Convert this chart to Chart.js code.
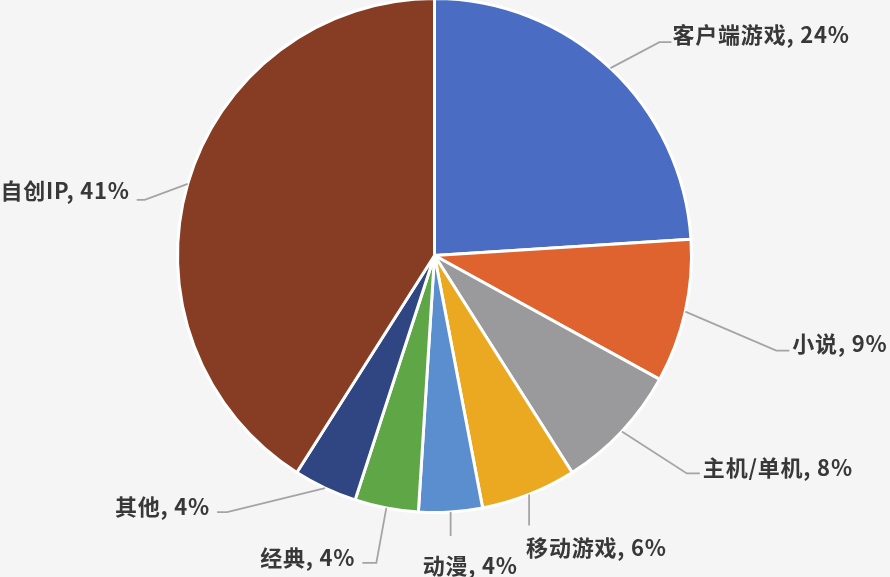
<!DOCTYPE html>
<html>
<head>
<meta charset="utf-8">
<script src="https://cdn.jsdelivr.net/npm/chart.js@4.4.1/dist/chart.umd.min.js"></script>
<style>
  html, body { margin: 0; padding: 0; background: #f5f5f5; overflow: hidden; }
  #wrap { position: absolute; left: 0; top: -20px; width: 890px; height: 597px; }
</style>
</head>
<body>
<div id="wrap"><canvas id="pie"></canvas></div>
<script>
// IP sources, share in percent, clockwise from 12 o'clock
const labels = ["客户端游戏", "小说", "主机/单机", "移动游戏", "动漫", "经典", "其他", "自创IP"];
const shares = [24, 9, 8, 6, 4, 4, 4, 41];
const colors = ["#4a6cc2", "#df632f", "#9a9a9c", "#eba922", "#5a8ecf", "#5ea646", "#2f4682", "#873d24"];

// where each label sits relative to the slice's outer midpoint
const leaderLayout = [
  { dx: 49, dy: -26, run: 12, tx: 1, ty: -8, align: "left" },
  { dx: 91, dy: 39, run: 13, tx: 3, ty: -7, align: "left" },
  { dx: 65, dy: 42, run: 13, tx: 3, ty: -6, align: "left" },
  { dx: 0, dy: 31, run: 0, tx: -3, ty: 22, align: "left" },
  { dx: 0, dy: 24, run: 0, tx: -28, ty: 30, align: "left" },
  { dx: -10, dy: 55, run: -14, tx: -7, ty: -5, align: "right" },
  { dx: -98, dy: 24, run: -10, tx: -7, ty: -5, align: "right" },
  { dx: -43, dy: 16, run: -8, tx: -7, ty: -9, align: "right" },
];

const leaders = {
  id: "leaders",
  afterDatasetsDraw(chart) {
    const ctx = chart.ctx;
    const meta = chart.getDatasetMeta(0);
    ctx.save();
    meta.data.forEach((arc, i) => {
      const mid = (arc.startAngle + arc.endAngle) / 2;
      const ax = arc.x + Math.cos(mid) * arc.outerRadius;
      const ay = arc.y + Math.sin(mid) * arc.outerRadius;
      const l = leaderLayout[i];
      const ex = ax + l.dx, ey = ay + l.dy;
      const fx = ex + l.run;

      ctx.strokeStyle = "#a4a4a4";
      ctx.lineWidth = 1.8;
      ctx.beginPath();
      ctx.moveTo(ax, ay);
      ctx.lineTo(ex, ey);
      if (l.run) ctx.lineTo(fx, ey);
      ctx.stroke();

      ctx.fillStyle = "#383838";
      ctx.font = "bold 22px 'Noto Sans CJK SC', 'Noto Sans', sans-serif";
      ctx.letterSpacing = "0.8px";
      ctx.textAlign = l.align;
      ctx.textBaseline = "middle";
      ctx.fillText(labels[i] + ", " + shares[i] + "%", fx + l.tx, ey + l.ty);
    });
    ctx.restore();
  },
};

new Chart(document.getElementById("pie"), {
  type: "pie",
  data: {
    labels: labels,
    datasets: [
      {
        data: shares,
        backgroundColor: colors,
        borderColor: "#ffffff",
        borderWidth: 3,
      },
    ],
  },
  options: {
    responsive: true,
    maintainAspectRatio: false,
    animation: false,
    layout: { padding: { left: 176, right: 197, top: 17, bottom: 63 } },
    plugins: {
      legend: { display: false },
      tooltip: { enabled: false },
    },
  },
  plugins: [leaders],
});
</script>
</body>
</html>
